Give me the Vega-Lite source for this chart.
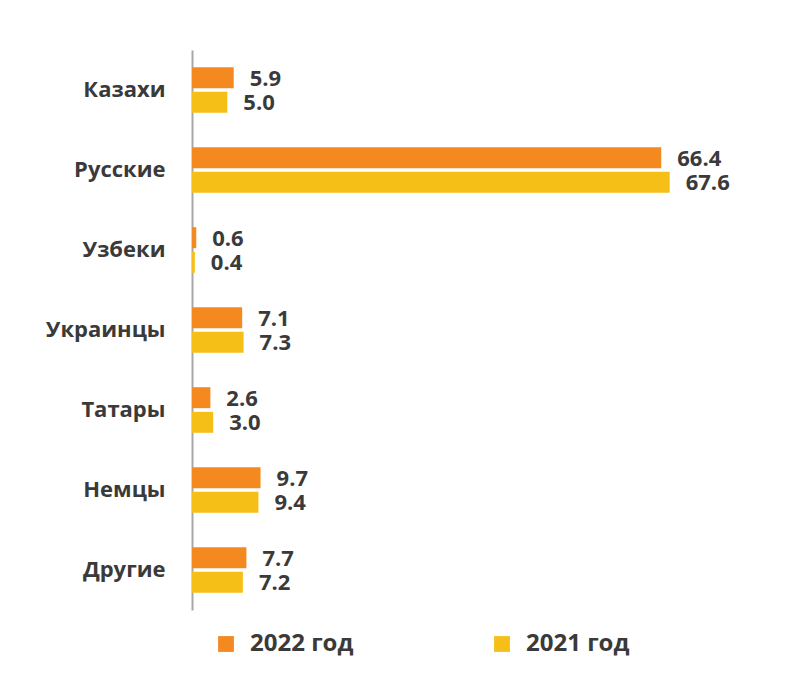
{
  "$schema": "https://vega.github.io/schema/vega-lite/v6.json",
  "width": 530,
  "height": 560,
  "padding": {"left": 42, "top": 50, "right": 5, "bottom": 5},
  "background": "white",
  "config": {"view": {"stroke": null}, "font": "Open Sans"},
  "data": {"values": [
    {"cat": "Казахи", "year": "2022 год", "value": 5.9},
    {"cat": "Казахи", "year": "2021 год", "value": 5.0},
    {"cat": "Русские", "year": "2022 год", "value": 66.4},
    {"cat": "Русские", "year": "2021 год", "value": 67.6},
    {"cat": "Узбеки", "year": "2022 год", "value": 0.6},
    {"cat": "Узбеки", "year": "2021 год", "value": 0.4},
    {"cat": "Украинцы", "year": "2022 год", "value": 7.1},
    {"cat": "Украинцы", "year": "2021 год", "value": 7.3},
    {"cat": "Татары", "year": "2022 год", "value": 2.6},
    {"cat": "Татары", "year": "2021 год", "value": 3.0},
    {"cat": "Немцы", "year": "2022 год", "value": 9.7},
    {"cat": "Немцы", "year": "2021 год", "value": 9.4},
    {"cat": "Другие", "year": "2022 год", "value": 7.7},
    {"cat": "Другие", "year": "2021 год", "value": 7.2}
  ]},
  "encoding": {
    "y": {
      "field": "cat", "type": "nominal", "sort": null,
      "scale": {"paddingInner": 0.43, "paddingOuter": 0.215},
      "axis": {
        "title": null, "ticks": false, "domainColor": "#a8a8a8", "domainWidth": 2,
        "labelFontSize": 22, "labelFontWeight": "bold", "labelColor": "#3a3a3a",
        "labelPadding": 27, "minExtent": 150, "maxExtent": 150
      }
    },
    "yOffset": {"field": "year", "type": "nominal", "sort": ["2022 год", "2021 год"], "scale": {"paddingInner": 0.15}},
    "x": {
      "field": "value", "type": "quantitative",
      "scale": {"domain": [0, 75], "nice": false},
      "axis": null
    }
  },
  "layer": [
    {
      "mark": {"type": "bar"},
      "encoding": {
        "color": {
          "field": "year", "type": "nominal",
          "scale": {"domain": ["2022 год", "2021 год"], "range": ["#F4891F", "#F5BF17"]},
          "legend": {
            "title": null, "orient": "none", "direction": "horizontal",
            "legendX": 22, "legendY": 582,
            "symbolType": "square", "symbolSize": 250, "symbolStrokeWidth": 0,
            "labelFontSize": 24, "labelFontWeight": "bold", "labelColor": "#3a3a3a",
            "labelOffset": 12, "columnPadding": 136, "labelLimit": 300
          }
        }
      }
    },
    {
      "mark": {"type": "text", "align": "left", "baseline": "middle", "dx": 16, "dy": 1, "fontSize": 22, "fontWeight": "bold", "color": "#3a3a3a"},
      "encoding": {
        "text": {"field": "value", "type": "quantitative", "format": ".1f"}
      }
    }
  ]
}
